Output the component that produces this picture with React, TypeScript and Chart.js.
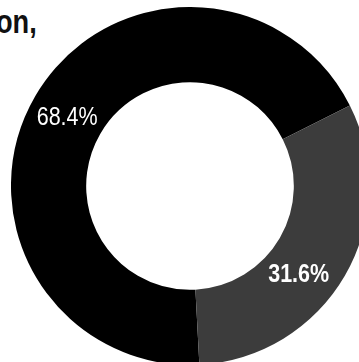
import React, { useEffect, useRef } from "react";
import { Chart, registerables } from "chart.js";

Chart.register(...registerables);

const categories = ["Share A", "Share B"];
const values = [68.4, 31.6];
const valueLabels = ["68.4%", "31.6%"];
const titleText = "on,";

const labelPlugin = {
  id: "sliceLabels",
  afterDatasetsDraw(chart: any) {
    const ctx = chart.ctx;
    const meta = chart.getDatasetMeta(0);
    meta.data.forEach((arc: any, i: number) => {
      const p = arc.getProps(["x", "y", "startAngle", "endAngle", "innerRadius", "outerRadius"], true);
      const mid = (p.startAngle + p.endAngle) / 2 + (i === 1 ? 0.16 : -0.02);
      const r = (p.innerRadius + p.outerRadius) / 2 - 1;
      const x = p.x + Math.cos(mid) * r;
      const y = p.y + Math.sin(mid) * r;
      ctx.save();
      ctx.translate(x, y);
      ctx.scale(0.86, 1);
      ctx.fillStyle = "#ffffff";
      ctx.textAlign = "center";
      ctx.textBaseline = "middle";
      ctx.font = (i === 1 ? "bold " : "") + "25px 'Liberation Sans', Arial, sans-serif";
      ctx.fillText(valueLabels[i], 0, 0);
      ctx.restore();
    });
  },
};

export default function App() {
  const ref = useRef<HTMLCanvasElement | null>(null);
  useEffect(() => {
    if (!ref.current) return;
    const chart = new Chart(ref.current, {
      type: "doughnut",
      data: {
        labels: categories,
        datasets: [
          {
            data: values,
            backgroundColor: ["#000000", "#3c3c3c"],
            borderWidth: 0,
          },
        ],
      },
      options: {
        animation: false,
        responsive: false,
        rotation: 177,
        cutout: "58%",
        layout: { padding: 0 },
        plugins: {
          legend: { display: false },
          tooltip: { enabled: false },
          title: { display: false },
        },
      },
      plugins: [labelPlugin],
    });
    return () => chart.destroy();
  }, []);

  return (
    <div
      style={{
        position: "fixed",
        left: 0,
        top: 0,
        width: 359,
        height: 362,
        overflow: "hidden",
        background: "#ffffff",
      }}
    >
      <div
        style={{
          position: "absolute",
          left: -4,
          top: 1,
          fontFamily: "'Liberation Sans', Arial, sans-serif",
          fontWeight: "bold",
          fontSize: 34,
          lineHeight: "40px",
          color: "#111",
          whiteSpace: "nowrap",
          transform: "scaleX(0.8)",
          transformOrigin: "left top",
        }}
      >
        {titleText}
      </div>
      <div style={{ position: "absolute", left: 11, top: 7, width: 358, height: 358 }}>
        <canvas ref={ref} width={358} height={358} style={{ width: 358, height: 358 }} />
      </div>
    </div>
  );
}
